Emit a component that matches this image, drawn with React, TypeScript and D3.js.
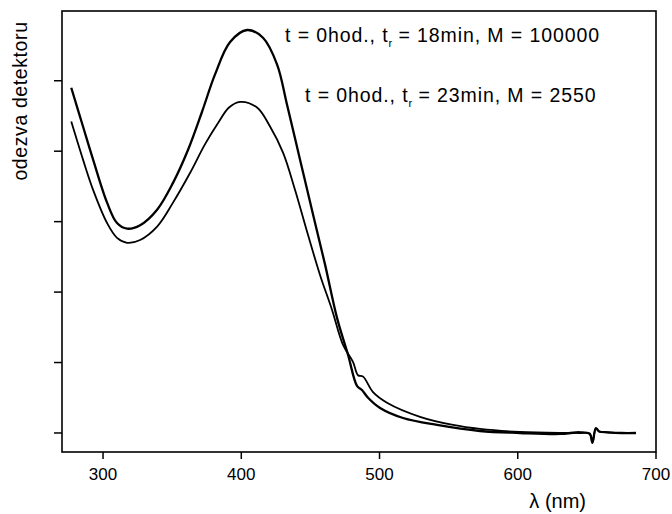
import React from "react";
import * as d3 from "d3";

// ---- data ----
const wavelengthsA = [277, 285.5, 292.8, 302.9, 310.1, 317.4, 326.8, 339.1, 350.6, 361.5, 371.6, 381.0, 391.9, 404.2, 415.7, 425.9, 433.1, 442.5, 451.9, 460.6, 469.3, 477.2, 483.7, 487.3, 491.7, 500.4, 517, 541.6, 572.7, 601.6, 630.6, 645, 652, 654, 656.5, 659, 665, 675, 685.5];
const valuesA = [4.9, 4.35, 3.88, 3.27, 2.98, 2.9, 2.95, 3.17, 3.55, 4.02, 4.56, 5.09, 5.55, 5.72, 5.61, 5.23, 4.66, 3.88, 3.1, 2.39, 1.63, 1.11, 0.67, 0.61, 0.5, 0.355, 0.213, 0.114, 0.028, 0.0, -0.014, 0.01, -0.01, -0.14, 0.07, 0.02, 0.01, 0.0, 0.0];

const wavelengthsB = [277, 285.5, 292.8, 302.9, 310.1, 317.4, 326.8, 339.1, 350.6, 362.9, 373.8, 383.2, 391.1, 399.1, 411.4, 420.8, 430.2, 438.9, 448.3, 457, 465.6, 473.6, 480.8, 484.4, 488.1, 495.3, 505.4, 529.3, 553.2, 572.7, 601.6, 630.6, 645, 652, 654, 656.5, 659, 665, 675, 685.5];
const valuesB = [4.42, 3.88, 3.45, 2.98, 2.77, 2.7, 2.74, 2.93, 3.27, 3.69, 4.1, 4.4, 4.62, 4.7, 4.62, 4.35, 3.98, 3.45, 2.81, 2.24, 1.75, 1.25, 1.01, 0.82, 0.8, 0.58, 0.43, 0.23, 0.114, 0.057, 0.014, 0.0, 0.0, -0.01, -0.13, 0.06, 0.02, 0.01, 0.0, 0.0];

const xTicks = [300, 400, 500, 600, 700];
const yTicks = [0, 1, 2, 3, 4, 5];
const labelA = { pre: "t = 0hod., t", sub: "r", post: " = 18min, M = 100000" };
const labelB = { pre: "t = 0hod., t", sub: "r", post: " = 23min, M = 2550" };
const xTitle = "λ (nm)";
const yTitle = "odezva detektoru";

export default function App() {
  const W = 672, H = 514;
  const left = 62, right = 656, top = 11, bottom = 452;
  const x = d3.scaleLinear().domain([270.3, 700]).range([left, right]);
  const y = d3.scaleLinear().domain([-0.27, 5.99]).range([bottom, top]);
  const line = d3
    .line<[number, number]>()
    .x((d) => x(d[0]))
    .y((d) => y(d[1]))
    .curve(d3.curveCatmullRom.alpha(0.5));
  const ptsA = wavelengthsA.map((w, i) => [w, valuesA[i]] as [number, number]);
  const ptsB = wavelengthsB.map((w, i) => [w, valuesB[i]] as [number, number]);
  const font = "'Liberation Sans', Arial, sans-serif";

  return (
    <svg width={W} height={H} style={{ position: "absolute", left: 0, top: 0, background: "#fff" }} fontFamily={font}>
      <rect x={0} y={0} width={W} height={H} fill="#fff" />
      <path d={line(ptsB) || ""} fill="none" stroke="#000" strokeWidth={1.8} />
      <path d={line(ptsA) || ""} fill="none" stroke="#000" strokeWidth={2.3} />
      <rect x={left} y={top} width={right - left} height={bottom - top} fill="none" stroke="#000" strokeWidth={1.6} />
      {xTicks.map((t) => (
        <g key={"x" + t}>
          <line x1={x(t)} x2={x(t)} y1={bottom} y2={bottom + 7} stroke="#000" strokeWidth={1.5} />
          <text x={x(t)} y={480} textAnchor="middle" fontSize={17} fill="#000">
            {t}
          </text>
        </g>
      ))}
      {yTicks.map((t) => (
        <line key={"y" + t} x1={left - 8} x2={left} y1={y(t)} y2={y(t)} stroke="#000" strokeWidth={1.5} />
      ))}
      <text x={586} y={508} textAnchor="end" fontSize={20} fill="#000">
        {xTitle}
      </text>
      <text transform="translate(27,101) rotate(-90)" textAnchor="middle" fontSize={19.5} letterSpacing={0.6} fill="#000">
        {yTitle}
      </text>
      <text x={285} y={42} fontSize={19.5} letterSpacing={0.9} fill="#000">
        {labelA.pre}
        <tspan fontSize={11} dy={5} letterSpacing={0}>{labelA.sub}</tspan>
        <tspan dy={-5}>{labelA.post}</tspan>
      </text>
      <text x={305} y={102} fontSize={19.5} letterSpacing={0.9} fill="#000">
        {labelB.pre}
        <tspan fontSize={11} dy={5} letterSpacing={0}>{labelB.sub}</tspan>
        <tspan dy={-5}>{labelB.post}</tspan>
      </text>
    </svg>
  );
}
